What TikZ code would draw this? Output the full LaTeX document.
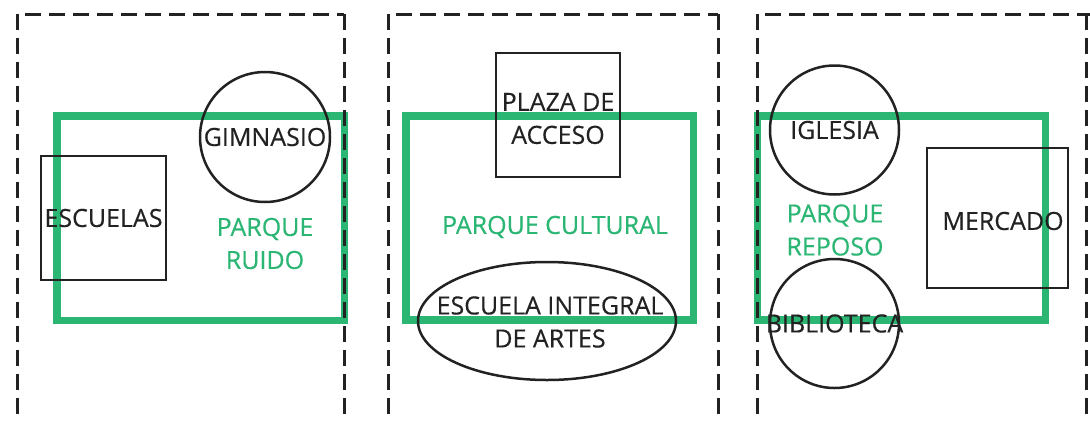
\documentclass[tikz,border=0pt]{standalone}
\usepackage{fontspec}
\setmainfont{Open Sans}[FakeBold=0.4]
\usetikzlibrary{positioning, shapes.geometric}
\definecolor{verdeparque}{RGB}{44,182,116}
\definecolor{trazo}{RGB}{34,34,34}

\begin{document}
\begin{tikzpicture}[x=1pt, y=-1pt,
    every node/.style={font=\fontsize{25}{33}\selectfont, align=center, inner sep=0pt, text=trazo},
    parque/.style={rectangle, draw=verdeparque, line width=7.5pt},
    caja/.style={rectangle, draw=trazo, line width=2.5pt},
    redondo/.style={circle, draw=trazo, line width=2.5pt, minimum size=129pt},
    rotulo/.style={text=verdeparque},
    lote/.style={draw=trazo, line width=3pt, dash pattern=on 16pt off 8pt}]
    \useasboundingbox (0,0) rectangle (1090,421);

    % parques
    \node[parque, minimum width=287.5, minimum height=204.5] (ruido) at (200.75,218.25) {};
    \node[parque, minimum width=287.5, minimum height=204] (cultural) at (549.75,218) {};
    \node[parque, minimum width=288, minimum height=204] (reposo) at (901.5,218) {};

    % bloque 1
    \node[caja, minimum width=125, minimum height=124] (escuelas) at (103.5,218) {ESCUELAS};
    \node[redondo, minimum size=130pt, label={center:GIMNASIO}] (gimnasio) at (265,137) {};
    \node[rotulo] (tRuido) at (265,243.5) {PARQUE\\RUIDO};

    % bloque 2
    \node[caja, minimum width=124, minimum height=124] (plaza) at (558,115) {};
    \node (tPlaza) at (558,118.5) {PLAZA DE\\ACCESO};
    \node[rotulo] (tCultural) at (555,227) {PARQUE CULTURAL};
    \node[ellipse, draw=trazo, line width=2.5pt, minimum width=258, minimum height=118] (artes) at (547,321) {};
    \node (tArtes) at (550,322) {ESCUELA INTEGRAL\\DE ARTES};

    % bloque 3
    \node[redondo, label={center:IGLESIA}] (iglesia) at (834.5,130) {};
    \node[redondo, label={center:BIBLIOTECA}] (biblioteca) at (834.5,323.5) {};
    \node[rotulo] (tReposo) at (835,230) {PARQUE\\REPOSO};
    \node[caja, minimum width=141, minimum height=140] (mercado) at (997.5,218) {};
    \node (tMercado) at (1003,221) {MERCADO};

    % lotes
    \draw[lote] (17,14) -- (17,421);
    \draw[lote, dash phase=16pt] (17,14) -- (344,14);
    \draw[lote] (344,14) -- (344,421);
    \draw[lote] (388,14) -- (388,421);
    \draw[lote, dash phase=16pt] (388,14) -- (718,14);
    \draw[lote] (718,14) -- (718,421);
    \draw[lote] (757,14) -- (757,421);
    \draw[lote, dash phase=16pt] (757,14) -- (1090,14);
    \draw[lote] (1086,14) -- (1086,421);
\end{tikzpicture}
\end{document}
